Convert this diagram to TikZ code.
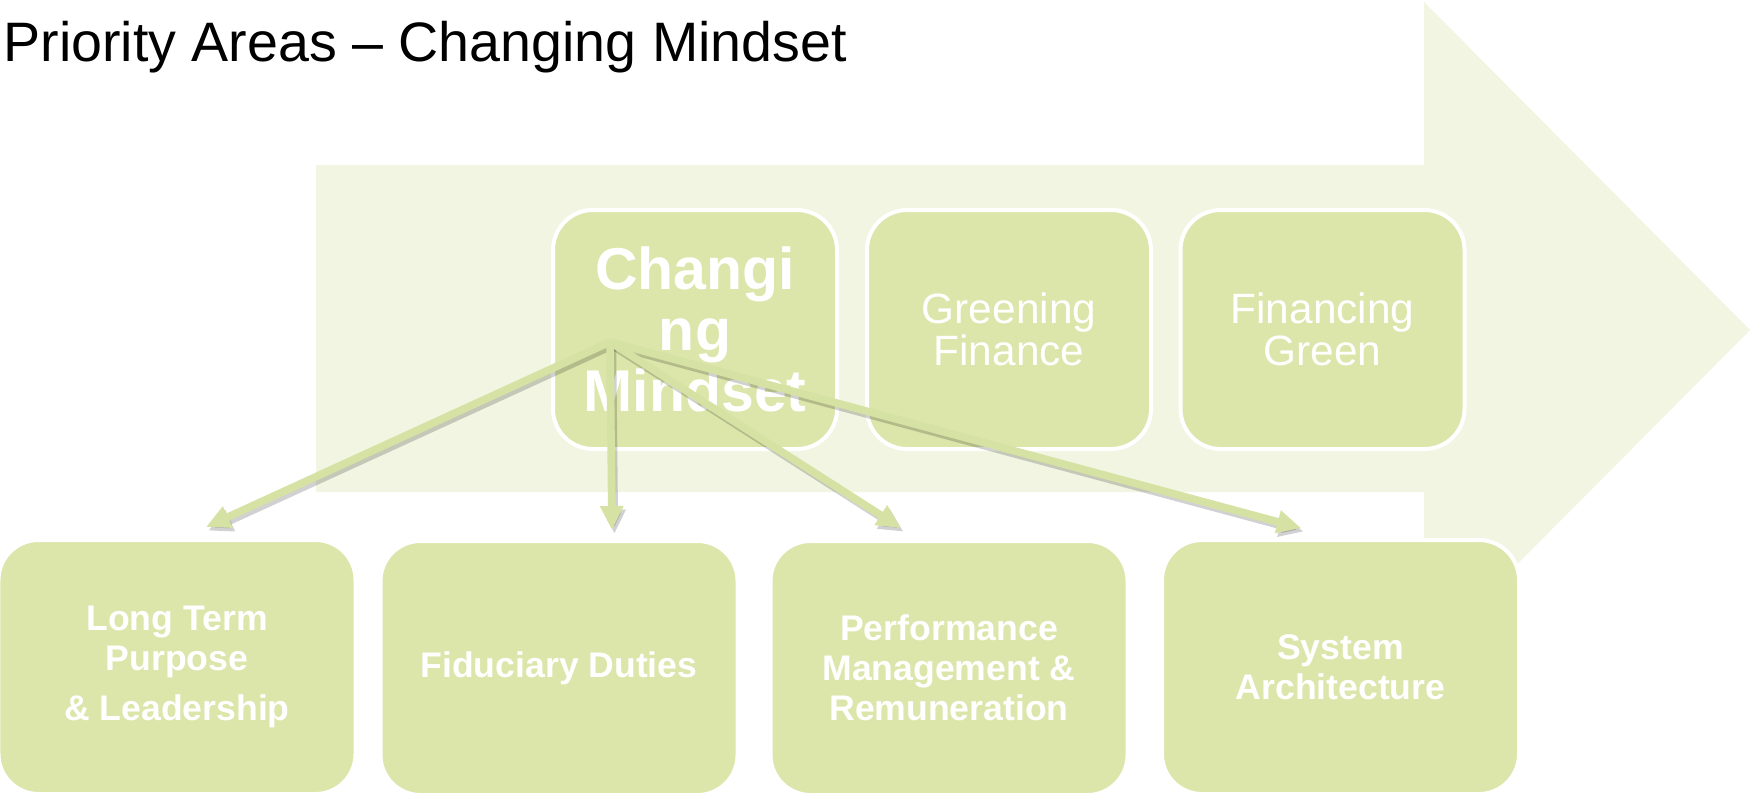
\documentclass[tikz,border=0pt]{standalone}
\usepackage{fontspec}
\setmainfont{Liberation Sans}
\usetikzlibrary{arrows.meta}
\definecolor{bandgreen}{HTML}{F1F5E1}
\definecolor{boxgreen}{HTML}{DCE5AA}
\definecolor{linkgreen}{HTML}{D6E2A3}
\begin{document}
\begin{tikzpicture}[x=0.5pt, y=-0.5pt,
		areabox/.style={draw=white, line width=2pt, fill=boxgreen, rounded corners=20pt, text=white, align=center, inner sep=0pt},
		topbox/.style={areabox, minimum width=142pt, minimum height=119.5pt},
		subbox/.style={areabox, minimum width=178.5pt, minimum height=127pt, font=\fontsize{17.8}{20}\selectfont\bfseries},
		link/.style={draw=linkgreen, line width=3.8pt, -{Triangle[width=11pt,length=12pt]}},
		linkshadow/.style={link, draw=black, opacity=0.18, transform canvas={xshift=1.2pt,yshift=-1.8pt}}]
	\useasboundingbox (0,0) rectangle (1750,794);
	\fill[bandgreen] (316,165) -- (1424,165) -- (1424,2) -- (1750,330) -- (1424,658) -- (1424,492) -- (316,492) -- cycle;
	\node[anchor=base west, inner sep=0pt, font=\fontsize{27.8}{32}\selectfont] (title) at (3,61) {Priority Areas – Changing Mindset};

	\node[topbox, font=\fontsize{29.5}{30.5}\selectfont\bfseries] (mindset) at (695,329.5) {Changi\\ng\\Mindset};
	\node[topbox, font=\fontsize{21.2}{21}\selectfont] (greening) at (1009,329.5) {Greening\\Finance};
	\node[topbox, font=\fontsize{21.2}{21}\selectfont] (financing) at (1322.5,329.5) {Financing\\Green};

	\node[subbox] (purpose) at (177,667) {Long Term\\Purpose\\[5pt]\& Leadership};
	\node[subbox] (fiduciary) at (559,668) {Fiduciary Duties};
	\node[subbox] (performance) at (949,668) {Performance\\Management \&\\Remuneration};
	\node[subbox] (system) at (1340.5,667) {System\\Architecture};

	\coordinate (hub) at (610,342);
	\coordinate (purposetip) at (206,527);
	\coordinate (fiduciarytip) at (612,530);
	\coordinate (performancetip) at (901,528);
	\coordinate (systemtip) at (1301,528);
	\foreach \t in {purposetip, fiduciarytip, performancetip, systemtip}
		\draw[linkshadow] (hub) -- (\t);
	\foreach \t in {purposetip, fiduciarytip, performancetip, systemtip}
		\draw[link] (hub) -- (\t);
\end{tikzpicture}
\end{document}
